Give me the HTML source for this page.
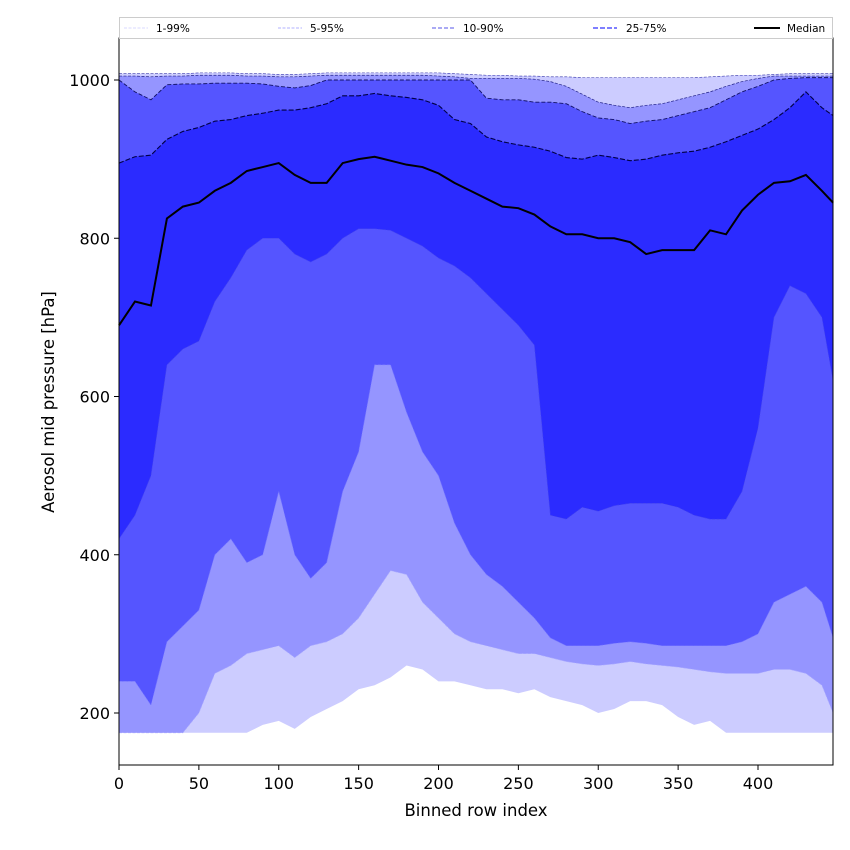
<!DOCTYPE html>
<html><head><meta charset="utf-8">
<style>
body{margin:0;background:#fff;}
svg{display:block;font-family:"DejaVu Sans","Liberation Sans",sans-serif;}
</style></head>
<body>
<svg id="chart" width="850" height="850" viewBox="0 0 850 850" xmlns="http://www.w3.org/2000/svg">
<g id="bands"></g>
<g id="lines"></g>
<rect x="119" y="38" width="714" height="727" fill="none" stroke="#000" stroke-width="1"/>
<g id="xticks"></g>
<g id="yticks"></g>
<text x="476" y="816" font-size="16.5" text-anchor="middle">Binned row index</text>
<text transform="translate(54,402) rotate(-90)" font-size="16.5" text-anchor="middle">Aerosol mid pressure [hPa]</text>
<g>
<rect x="119.5" y="17.5" width="713" height="21" fill="#fff" stroke="#ccc"/>
<g><line x1="124" y1="28" x2="148" y2="28" stroke="#ccccff" stroke-width="0.8" stroke-dasharray="3,1.5"/><text x="156" y="32" font-size="10.5">1-99%</text></g>
<g><line x1="278" y1="28" x2="302" y2="28" stroke="#9999ff" stroke-width="0.8" stroke-dasharray="3,1.5"/><text x="310" y="32" font-size="10.5">5-95%</text></g>
<g><line x1="432" y1="28" x2="456" y2="28" stroke="#7777ee" stroke-width="1.2" stroke-dasharray="4,2"/><text x="463" y="32" font-size="10.5">10-90%</text></g>
<g><line x1="593" y1="28" x2="617" y2="28" stroke="#5555ff" stroke-width="1.6" stroke-dasharray="5,2"/><text x="626" y="32" font-size="10.5">25-75%</text></g>
<g><line x1="754" y1="28" x2="780" y2="28" stroke="#000" stroke-width="2"/><text x="787" y="32" font-size="10.5">Median</text></g>
</g>
</svg>
<script>
const xs=[0,10,20,30,40,50,60,70,80,90,100,110,120,130,140,150,160,170,180,190,200,210,220,230,240,250,260,270,280,290,300,310,320,330,340,350,360,370,380,390,400,410,420,430,440,447];
const p99=[1008,1008,1008,1008,1008,1009,1009,1009,1008,1008,1007,1007,1008,1009,1009,1009,1009,1009,1009,1009,1009,1008,1007,1006,1006,1005,1005,1004,1004,1003,1003,1003,1003,1003,1003,1003,1003,1004,1005,1006,1006,1007,1008,1008,1008,1008];
const p95=[1005,1005,1004,1005,1005,1006,1006,1006,1005,1005,1004,1004,1005,1006,1006,1006,1006,1006,1006,1006,1005,1004,1002,1002,1002,1002,1001,998,992,982,972,968,965,968,970,975,980,985,992,998,1002,1005,1005,1005,1005,1005];
const p90=[1000,985,975,994,995,995,996,996,996,995,992,990,993,1000,1000,1000,1000,1000,1000,1000,1000,1000,1000,977,975,975,972,972,970,960,952,950,945,948,950,955,960,965,975,985,992,1000,1002,1003,1003,1003];
const p75=[895,903,905,925,935,940,948,950,955,958,962,962,965,970,980,980,983,980,978,975,968,950,945,928,922,918,915,910,902,900,905,902,898,900,905,908,910,915,922,930,938,950,965,985,965,955];
const med=[690,720,715,825,840,845,860,870,885,890,895,880,870,870,895,900,903,898,893,890,882,870,860,850,840,838,830,815,805,805,800,800,795,780,785,785,785,810,805,835,855,870,872,880,860,845];
const p25=[420,450,500,640,660,670,720,750,785,800,800,780,770,780,800,812,812,810,800,790,775,765,750,730,710,690,665,450,445,460,455,462,465,465,465,460,450,445,445,480,560,700,740,730,700,620];
const p10=[240,240,210,290,310,330,400,420,390,400,480,400,370,390,480,530,640,640,580,530,500,440,400,375,360,340,320,295,285,285,285,288,290,288,285,285,285,285,285,290,300,340,350,360,340,295];
const p5=[175,175,175,175,175,200,250,260,275,280,285,270,285,290,300,320,350,380,375,340,320,300,290,285,280,275,275,270,265,262,260,262,265,262,260,258,255,252,250,250,250,255,255,250,235,200];
const p1=[175,175,175,175,175,175,175,175,175,185,190,180,195,205,215,230,235,245,260,255,240,240,235,230,230,225,230,220,215,210,200,205,215,215,210,195,185,190,175,175,175,175,175,175,175,175];
const xTicks=[0,50,100,150,200,250,300,350,400];
const yTicks=[200,400,600,800,1000];

const X=v=>119+v*1.5975;
const Y=v=>80+(1000-v)*0.79125;
const NS='http://www.w3.org/2000/svg';
function pts(a){return a.map((v,i)=>X(xs[i]).toFixed(2)+','+Y(v).toFixed(2));}
const bands=document.getElementById('bands');
function band(up,lo,col,name){
  const p=document.createElementNS(NS,'polygon');
  p.setAttribute('points',pts(up).concat(pts(lo).reverse()).join(' '));
  p.setAttribute('fill',col);
  
  
  bands.appendChild(p);
}
band(p99,p1,'#ccccff','band-1-99');
band(p95,p5,'#9595ff','band-5-95');
band(p90,p10,'#5555ff','band-10-90');
band(p75,p25,'#2b2bff','band-25-75');
const lines=document.getElementById('lines');
function line(a,col,w,dash,name){
  const p=document.createElementNS(NS,'polyline');
  p.setAttribute('points',pts(a).join(' '));
  p.setAttribute('fill','none');
  p.setAttribute('stroke',col);
  p.setAttribute('stroke-width',w);
  if(dash)p.setAttribute('stroke-dasharray',dash);
  
  
  lines.appendChild(p);
}
line(p99,'#3333aa',0.6,'3,1.5','line-p99');
line(p95,'#222288',0.7,'3,1.5','line-p95');
line(p90,'#111166',0.9,'4,2','line-p90');
line(p75,'#000044',1.1,'5,2','line-p75');
line(p25,'#4444ee',0.6,'3,1.5','line-p25');
line(p10,'#7777ff',0.6,'3,1.5','line-p10');
line(p5,'#aaaaff',0.6,'3,1.5','line-p5');
line(med,'#000',2,null,'line-median');
const xt=document.getElementById('xticks');
xTicks.forEach(v=>{
  const l=document.createElementNS(NS,'line');
  l.setAttribute('x1',X(v));l.setAttribute('x2',X(v));l.setAttribute('y1',765);l.setAttribute('y2',770);l.setAttribute('stroke','#000');
  
  
  xt.appendChild(l);
  const t=document.createElementNS(NS,'text');
  t.setAttribute('x',X(v));t.setAttribute('y',789);t.setAttribute('font-size','16');t.setAttribute('text-anchor','middle');
  t.textContent=v;
  
  
  xt.appendChild(t);
});
const yt=document.getElementById('yticks');
yTicks.forEach(v=>{
  const l=document.createElementNS(NS,'line');
  l.setAttribute('x1',114);l.setAttribute('x2',119);l.setAttribute('y1',Y(v));l.setAttribute('y2',Y(v));l.setAttribute('stroke','#000');
  
  
  yt.appendChild(l);
  const t=document.createElementNS(NS,'text');
  t.setAttribute('x',110);t.setAttribute('y',Y(v)+6);t.setAttribute('font-size','16');t.setAttribute('text-anchor','end');
  t.textContent=v;
  
  
  yt.appendChild(t);
});
</script>
</body></html>
